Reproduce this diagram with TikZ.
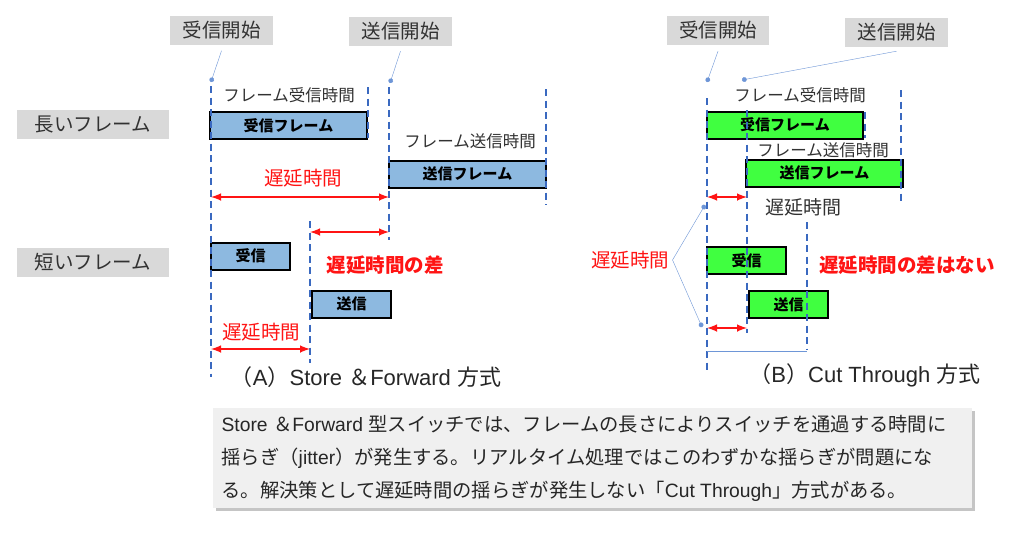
\documentclass[tikz,border=0pt]{standalone}
\usepackage{fontspec}
\setmainfont{Noto Sans CJK JP}
\newfontfamily\lat{Liberation Sans}
\usetikzlibrary{arrows,shadows}

\definecolor{lblgray}{RGB}{217,217,217}
\definecolor{txtgray}{RGB}{50,50,50}
\definecolor{frameblue}{RGB}{141,185,224}
\definecolor{framegreen}{RGB}{64,255,64}
\definecolor{guideblue}{RGB}{58,105,192}
\definecolor{ptrblue}{RGB}{110,150,215}
\definecolor{delayred}{RGB}{255,20,20}
\definecolor{notegray}{RGB}{240,240,240}

\newcommand{\setfs}[1]{\fontsize{#1}{#1}\selectfont}

\begin{document}
\begin{tikzpicture}[x=1pt, y=-1pt,
  lbl/.style={fill=lblgray, text=txtgray, inner sep=0pt, minimum height=29pt, font=\setfs{19.5}},
  frm/.style={draw=black, line width=2pt, inner sep=0pt, minimum height=27pt, font=\bfseries\setfs{15}},
  guide/.style={draw=guideblue, line width=2.7pt, dash pattern=on 7pt off 4.5pt},
  ptr/.style={draw=ptrblue, thin, -*},
  delay/.style={draw=delayred, line width=2.4pt, <->, >=latex},
  dtime/.style={text=delayred, font=\setfs{19.5}},
  dbold/.style={text=delayred, font=\bfseries\setfs{19.5}},
  spantext/.style={text=txtgray, font=\setfs{16.5}},
  method/.style={text=black!85, font=\setfs{22}},
]
  \fill[white] (0,0) rectangle (1024,533);
  \useasboundingbox (0,0) rectangle (1024,533);

  % (A) store and forward
  \node[lbl, minimum width=152pt] (longA) at (93,124.5) {長いフレーム};
  \node[lbl, minimum width=152pt] (shortA) at (93,262.5) {短いフレーム};
  \node[lbl, minimum width=103pt] (rsA) at (221.5,30) {受信開始};
  \node[lbl, minimum width=103pt] (tsA) at (400.5,31.5) {送信開始};

  \coordinate (pA1) at (211,82);
  \coordinate (pA2) at (390,83);
  \draw[ptr] ([yshift=-6pt]rsA.south) -- (pA1);
  \draw[ptr] ([yshift=-5pt]tsA.south) -- (pA2);

  \node[frm, fill=frameblue, minimum width=157pt] (rxA) at (288.5,125.5) {受信フレーム};
  \node[frm, fill=frameblue, minimum width=157pt] (txA) at (467.5,174) {送信フレーム};
  \node[frm, fill=frameblue, minimum width=79pt] (rxsA) at (250.5,256) {受信};
  \node[frm, fill=frameblue, minimum width=79pt] (txsA) at (351.5,304) {送信};

  \draw[guide] (211,86) -- (211,377);
  \draw[guide] (368,87) -- (368,138);
  \draw[guide] (389,87) -- (389,240);
  \draw[guide] (546,89) -- (546,205);
  \draw[guide] (310,221) -- (310,363);

  \node[spantext] (rtA) at (289,95) {フレーム受信時間};
  \node[spantext] (ttA) at (470,141) {フレーム送信時間};

  \coordinate (a1) at (211,197); \coordinate (a2) at (389,197);
  \coordinate (a3) at (310,232); \coordinate (a4) at (389,232);
  \coordinate (a5) at (211,349); \coordinate (a6) at (310,349);
  \draw[delay] (a1) -- (a2);
  \draw[delay] (a3) -- (a4);
  \draw[delay] (a5) -- (a6);

  \node[dtime] (dlA1) at (303,178) {遅延時間};
  \node[dbold] (diffA) at (385,265) {遅延時間の差};
  \node[dtime] (dlA2) at (261,332) {遅延時間};
  \node[method] (capA) at (366,377) {（{\lat A}）{\lat Store }＆{\lat Forward }方式};

  % (B) cut through
  \node[lbl, minimum width=102pt] (rsB) at (718,30.5) {受信開始};
  \node[lbl, minimum width=103pt] (tsB) at (896.5,32.5) {送信開始};

  \coordinate (pB1) at (707,82);
  \coordinate (pB2) at (742,80);
  \draw[ptr] ([yshift=-6pt]rsB.south) -- (pB1);
  \draw[ptr] ([yshift=-4pt]tsB.south) -- (pB2);

  \node[frm, fill=framegreen, minimum width=156pt] (rxB) at (785,125) {受信フレーム};
  \node[frm, fill=framegreen, minimum width=157pt] (txB) at (824.5,173) {送信フレーム};
  \node[frm, fill=framegreen, minimum width=79pt] (rxsB) at (746.5,260.5) {受信};
  \node[frm, fill=framegreen, minimum width=79pt] (txsB) at (788.5,304.5) {送信};

  \draw[guide] (707,98) -- (707,373);
  \draw[guide] (747,110) -- (747,333);
  \draw[guide] (865,112) -- (865,138);
  \draw[guide] (901,90) -- (901,205);
  \draw[guide] (807,222) -- (807,350);

  \node[spantext] (rtB) at (800,95) {フレーム受信時間};
  \node[spantext] (ttB) at (823,150) {フレーム送信時間};
  \node[spantext, font=\setfs{19}] (dlB0) at (803,207) {遅延時間};

  \coordinate (b1) at (707,197); \coordinate (b2) at (747,197);
  \coordinate (b3) at (707,328); \coordinate (b4) at (747,328);
  \draw[delay] (b1) -- (b2);
  \draw[delay] (b3) -- (b4);

  \node[dtime] (dlB) at (630,260) {遅延時間};
  \coordinate (q1) at (705,205);
  \coordinate (q2) at (702,327);
  \draw[ptr] (dlB.east) -- (q1);
  \draw[ptr] (dlB.east) -- (q2);

  \coordinate (s1) at (707,351); \coordinate (s2) at (807,351);
  \draw[ptrblue, thin] (s1) -- (s2);

  \node[dbold] (diffB) at (907,265) {遅延時間の差はない};
  \node[method] (capB) at (865,375) {（{\lat B}）{\lat Cut Through }方式};

  % note
  \node[fill=notegray, minimum width=759pt, minimum height=100pt, inner sep=0pt,
        drop shadow={shadow xshift=3pt, shadow yshift=-3pt, fill=black!45, opacity=.5}]
        (noteBox) at (592.5,458) {};
  \node[anchor=west, align=left, text=black!85, font=\fontsize{19.3}{33}\selectfont]
        (note) at (218,458) {{\lat Store }＆{\lat Forward }型スイッチでは、フレームの長さによりスイッチを通過する時間に\\
        揺らぎ（{\lat jitter}）が発生する。リアルタイム処理ではこのわずかな揺らぎが問題にな\\
        る。解決策として遅延時間の揺らぎが発生しない「{\lat Cut Through}」方式がある。};
\end{tikzpicture}
\end{document}
